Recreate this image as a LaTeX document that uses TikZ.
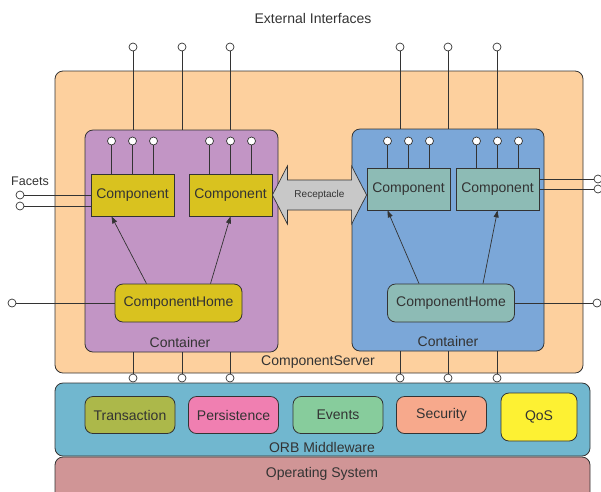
\documentclass[tikz,border=0pt]{standalone}
\usepackage{fontspec}
\setmainfont{Liberation Sans}
\usetikzlibrary{arrows.meta, calc, positioning}

\definecolor{txt}{HTML}{333333}
\definecolor{serverbg}{HTML}{FDD09E}
\definecolor{leftbg}{HTML}{C295C5}
\definecolor{rightbg}{HTML}{7BA7D8}
\definecolor{lcomp}{HTML}{D9C21F}
\definecolor{rcomp}{HTML}{8DBBB5}
\definecolor{recbg}{HTML}{C8C8C8}
\definecolor{orbbg}{HTML}{71B7CF}
\definecolor{osbg}{HTML}{D09596}
\definecolor{transbg}{HTML}{ACB84A}
\definecolor{persbg}{HTML}{F07FB1}
\definecolor{evbg}{HTML}{87CC9C}
\definecolor{secbg}{HTML}{F7A98C}
\definecolor{qosbg}{HTML}{FDF133}

\begin{document}
\begin{tikzpicture}[x=1pt, y=-1pt, font=\fontsize{14}{16}\selectfont, text=txt,
    box/.style={draw=txt, line width=0.8pt, rounded corners=8pt, inner sep=0pt},
    comp/.style={draw=txt, line width=0.8pt, inner sep=0pt, minimum width=83pt, minimum height=42pt},
    home/.style={box, fill=#1, minimum width=127pt, minimum height=38pt},
    svc/.style={box, fill=#1, minimum width=90pt, minimum height=37pt},
    pin/.style={circle, draw=txt, fill=white, line width=0.7pt, inner sep=0pt, minimum size=8pt},
    wire/.style={draw=txt, line width=0.7pt}]
    \useasboundingbox (0,0) rectangle (601,491);

    % Server and containers
    \node[box, fill=serverbg, minimum width=528pt, minimum height=302pt] (srv) at (319,222) {};
    \node (srvlbl) at (318,362) {ComponentServer};
    \node[box, fill=leftbg, minimum width=193pt, minimum height=222pt] (lc) at (181.5,241) {};
    \node (lclbl) at (180,342) {Container};
    \node[box, fill=rightbg, minimum width=192pt, minimum height=222pt] (rc) at (448,240) {};
    \node (rclbl) at (448,341) {Container};
    \node (ext) at (313,18) {External Interfaces};

    % Components and homes
    \node[comp, fill=lcomp] (c1) at (132.5,195) {Component};
    \node[comp, fill=lcomp] (c2) at (230.5,195) {Component};
    \node[comp, fill=rcomp] (c3) at (408.5,189) {Component};
    \node[comp, fill=rcomp] (c4) at (497.5,189) {Component};
    \node[home=lcomp] (h1) at (178.5,303) {ComponentHome};
    \node[home=rcomp] (h2) at (451,303) {ComponentHome};

    % Component pins
    \coordinate (pinrow) at (0,141);
    \foreach \c in {c1,c2,c3,c4}
        \foreach \dx [count=\i] in {-21,0,21} {
            \path ([xshift=\dx pt]\c.north) coordinate (tmp);
            \node[pin] (\c p\i) at (tmp |- pinrow) {};
            \draw[wire] (\c p\i) -- (tmp);
        }

    % External pins, top and bottom
    \foreach \x [count=\i] in {133,182,230} {
        \node[pin] (tl\i) at (\x,47) {};
        \draw[wire] (tl\i) -- (tl\i |- lc.north);
        \node[pin] (bl\i) at (\x,378) {};
        \draw[wire] (bl\i |- lc.south) -- (bl\i);
    }
    \foreach \x [count=\i] in {400,448,497} {
        \node[pin] (tr\i) at (\x,47) {};
        \draw[wire] (tr\i) -- (tr\i |- rc.north);
        \node[pin] (br\i) at (\x,378) {};
        \draw[wire] (br\i |- rc.south) -- (br\i);
    }

    % Facets
    \node[font=\fontsize{12.5}{14}\selectfont] (fac) at (30,181) {Facets};
    \node[pin] (f1) at (20,195) {};
    \node[pin] (f2) at (20,206) {};
    \draw[wire] (f1) -- (f1 -| c1.west);
    \draw[wire] (f2) -- (f2 -| c1.west);
    \node[pin] (f3) at (598,179) {};
    \node[pin] (f4) at (598,189) {};
    \draw[wire] (f3) -- (f3 -| c4.east);
    \draw[wire] (f4) -- (f4 -| c4.east);

    % Home pins
    \node[pin] (hp1) at (12,303) {};
    \node[pin] (hp2) at (597,303) {};
    \draw[wire] (hp1) -- (h1.west);
    \draw[wire] (h2.east) -- (hp2);

    % Home to component arrows
    \draw[wire, -{Triangle[length=7pt, width=5pt]}] ([xshift=-32pt]h1.north) -- ([xshift=-21pt]c1.south);
    \draw[wire, -{Triangle[length=7pt, width=5pt]}] ([xshift=32pt]h1.north) -- (c2.south);
    \draw[wire, -{Triangle[length=7pt, width=5pt]}] ([xshift=-32pt]h2.north) -- ([xshift=-21pt]c3.south);
    \draw[wire, -{Triangle[length=7pt, width=5pt]}] ([xshift=32pt]h2.north) -- (c4.south);

    % Receptacle
    \coordinate (rr) at (c3.west |- c2.east);
    \draw[wire, fill=recbg] (c2.east) -- ++(15,-29) -- ++(0,14) -- ($(rr)+(-15,-15)$) -- ++(0,-14)
        -- (rr) -- ++(-15,29) -- ++(0,-14) -- ($(c2.east)+(15,15)$) -- ++(0,14) -- cycle;
    \node[font=\fontsize{10}{12}\selectfont] (rec) at ($(c2.east)!0.5!(rr)$) {Receptacle};

    % ORB middleware and OS
    \node[box, fill=orbbg, minimum width=535pt, minimum height=73pt] (orb) at (322.5,419.5) {};
    \node (orblbl) at (322,447) {ORB Middleware};
    \node[box, fill=osbg, minimum width=535pt, minimum height=44pt] (os) at (322.5,479) {};
    \node (oslbl) at (322,474) {Operating System};
    \node[svc=transbg] (trans) at (130,415) {Transaction};
    \node[svc=persbg] (pers) at (233.5,415) {Persistence};
    \node[svc=evbg] (ev) at (338,415) {Events};
    \node[svc=secbg] (sec) at (441.5,415) {Security};
    \node[svc=qosbg, minimum width=76pt, minimum height=48pt] (qos) at (539,417) {QoS};
\end{tikzpicture}
\end{document}
